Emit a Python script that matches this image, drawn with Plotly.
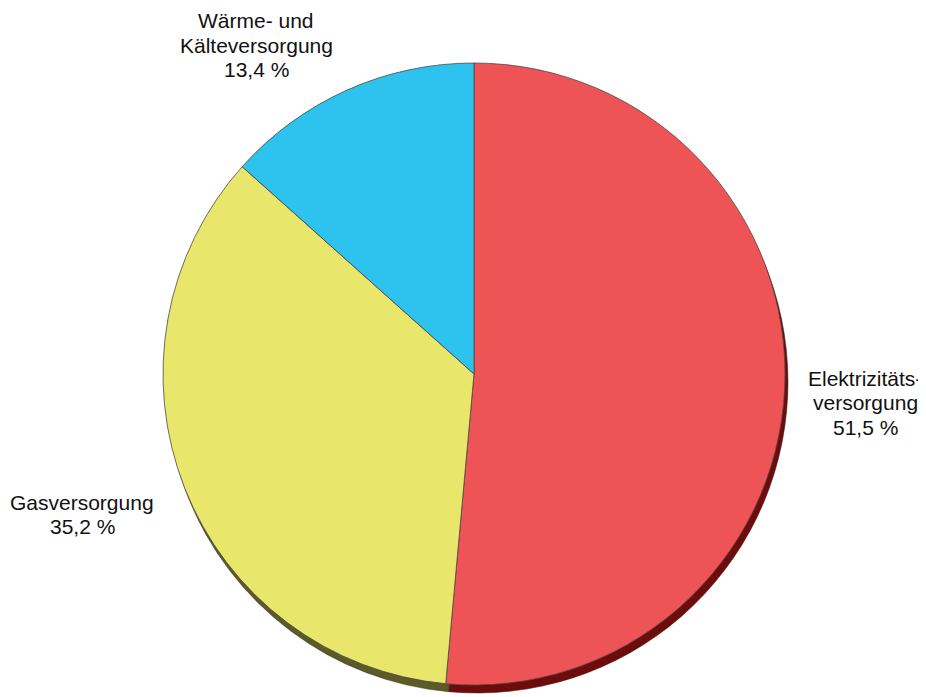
import plotly.graph_objects as go

# Data
categories = ["Elektrizitätsversorgung", "Gasversorgung", "Wärme- und Kälteversorgung"]
shares = [51.5, 35.2, 13.4]
label_lines = [["Elektrizitäts-", "versorgung", "51,5 %"],
               ["Gasversorgung", "35,2 %"],
               ["Wärme- und", "Kälteversorgung", "13,4 %"]]

# Styles
face_colors = ["#EE5455", "#E9E66C", "#2EC3EF"]
shadow_colors = ["#6E0B0B", "#5C5B26", "#0E5A78"]
# label centre x and first-line y in screenshot pixels
label_pos = [(865, 378), (82, 502), (256, 21)]
line_gap = 24.5

OFF = 8                      # page body margin
W, H = 926 - OFF, 697 - OFF  # figure size so it fits the window
cx, cy, r = 474 - OFF, 374 - OFF, 311

def dom(cx, cy, r):
    return dict(x=[(cx - r) / W, (cx + r) / W],
                y=[(H - cy - r) / H, (H - cy + r) / H])

fig = go.Figure()
# shadow / depth layer
fig.add_trace(go.Pie(
    labels=categories, values=shares, sort=False, direction="clockwise",
    rotation=0, textinfo="none", hoverinfo="skip",
    marker=dict(colors=shadow_colors, line=dict(color="#3a1a1a", width=0.5)),
    domain=dom(cx + 3, cy + 8, r), showlegend=False))
# top face
fig.add_trace(go.Pie(
    labels=categories, values=shares, sort=False, direction="clockwise",
    rotation=0, textinfo="none",
    marker=dict(colors=face_colors, line=dict(color="#4a4a4a", width=0.8)),
    domain=dom(cx, cy, r), showlegend=False))

for lines, (x, y0) in zip(label_lines, label_pos):
    for i, txt in enumerate(lines):
        y = y0 + i * line_gap - OFF
        fig.add_annotation(x=(x - OFF) / W, y=(H - y) / H, xref="paper", yref="paper",
                           text=txt, showarrow=False, xanchor="center", yanchor="middle",
                           font=dict(family="Liberation Sans, Arial, sans-serif",
                                     size=21, color="#111"))

fig.update_layout(width=W, height=H, margin=dict(l=0, r=0, t=0, b=0),
                  paper_bgcolor="white", plot_bgcolor="white")
fig.write_html("out.html")
